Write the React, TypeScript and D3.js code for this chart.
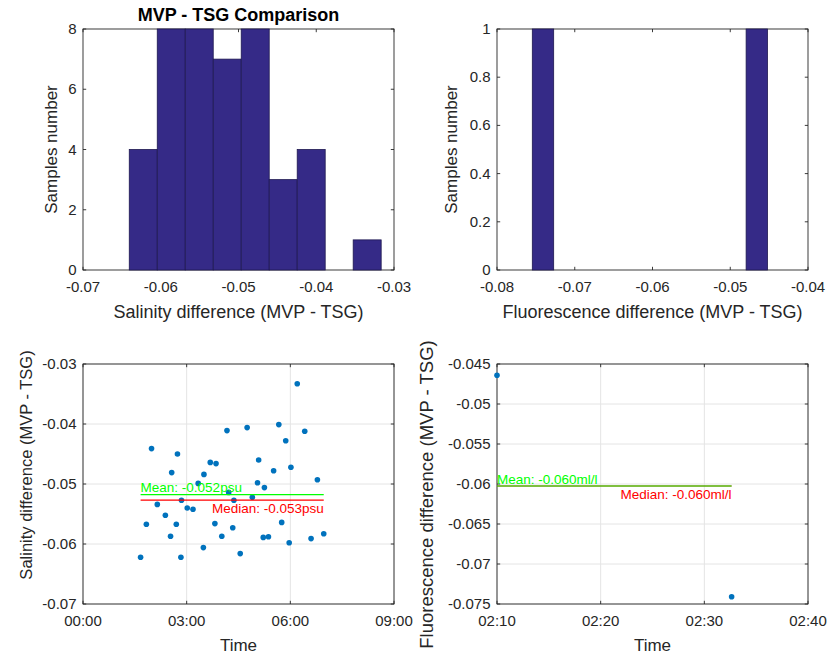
import React from 'react';
import * as d3 from 'd3';

// ---------- data ----------
const salHistEdgeStart = -0.06405;
const salHistBinWidth = 0.0036;
const salHistCounts = [4, 8, 8, 7, 8, 3, 4, 0, 1];
const salHistXTicks = [-0.07, -0.06, -0.05, -0.04, -0.03];
const salHistYTicks = [0, 2, 4, 6, 8];

const fluHistEdgeStart = -0.07546;
const fluHistBinWidth = 0.00275;
const fluHistCounts = [1, 0, 0, 0, 0, 0, 0, 0, 0, 0, 1];
const fluHistXTicks = [-0.08, -0.07, -0.06, -0.05, -0.04];
const fluHistYTicks = [0, 0.2, 0.4, 0.6, 0.8, 1];

const salTimes = [
  '01:40', '01:50', '01:59', '02:09', '02:23', '02:32', '02:34', '02:42', '02:44', '02:50',
  '02:51', '03:01', '03:11', '03:20', '03:29', '03:30', '03:41', '03:49', '03:51', '04:01',
  '04:10', '04:13', '04:20', '04:22', '04:33', '04:45', '04:54', '05:03', '05:05', '05:13',
  '05:15', '05:22', '05:31', '05:40', '05:45', '05:52', '05:58', '06:01', '06:12', '06:25',
  '06:36', '06:47', '06:58',
];
const salDiffs = [
  -0.0622, -0.0567, -0.0441, -0.0534, -0.0552, -0.0587, -0.0481, -0.0567, -0.0450, -0.0622,
  -0.0527, -0.0540, -0.0542, -0.0499, -0.0606, -0.0484, -0.0464, -0.0566, -0.0466, -0.0587,
  -0.0411, -0.0514, -0.0573, -0.0527, -0.0616, -0.0406, -0.0522, -0.0498, -0.0460, -0.0589,
  -0.0506, -0.0588, -0.0478, -0.0401, -0.0564, -0.0428, -0.0598, -0.0472, -0.0333, -0.0412,
  -0.0591, -0.0493, -0.0583,
];
const salYTicks = [-0.07, -0.06, -0.05, -0.04, -0.03];
const salTimeDomain = ['00:00', '09:00'];
const salTimeTicks = ['00:00', '03:00', '06:00', '09:00'];

const fluTimes = ['02:10:00', '02:32:38'];
const fluDiffs = [-0.0464, -0.0741];
const fluYTicks = [-0.075, -0.07, -0.065, -0.06, -0.055, -0.05, -0.045];
const fluTimeDomain = ['02:10', '02:40'];
const fluTimeTicks = ['02:10', '02:20', '02:30', '02:40'];

// ---------- helpers ----------
const FONT = '"Liberation Sans", Arial, Helvetica, sans-serif';
const AX = '#262626';
const BAR = '#352A87';
const DOT = '#0072BD';
const GRID = '#e4e4e4';
const TICK_FS = 15;

const parseT = (s: string) => {
  const p = s.split(':').map(Number);
  return new Date(2000, 0, 1, p[0], p[1], p[2] || 0);
};
const numFmt = (v: number) => String(+v.toFixed(6));
const timeFmt = d3.timeFormat('%H:%M');

type Box = { x0: number; x1: number; y0: number; y1: number };

function Frame({ box, xPos, yPos, xLabels, yLabels, grid }: any) {
  const tl = 3.2;
  return (
    <g>
      {grid &&
        xPos.map((px: number, i: number) => (
          <line key={'gx' + i} x1={px} x2={px} y1={box.y0} y2={box.y1} stroke={GRID} strokeWidth={1} />
        ))}
      {grid &&
        yPos.map((py: number, i: number) => (
          <line key={'gy' + i} x1={box.x0} x2={box.x1} y1={py} y2={py} stroke={GRID} strokeWidth={1} />
        ))}
      <rect x={box.x0} y={box.y0} width={box.x1 - box.x0} height={box.y1 - box.y0} fill="none" stroke={AX} strokeWidth={0.9} />
      {xPos.map((px: number, i: number) => (
        <g key={'tx' + i}>
          <line x1={px} x2={px} y1={box.y1} y2={box.y1 - tl} stroke={AX} strokeWidth={0.9} />
          <line x1={px} x2={px} y1={box.y0} y2={box.y0 + tl} stroke={AX} strokeWidth={0.9} />
          <text x={px} y={box.y1 + 22} textAnchor="middle" fontSize={TICK_FS} fill={AX} fontFamily={FONT}>
            {xLabels[i]}
          </text>
        </g>
      ))}
      {yPos.map((py: number, i: number) => (
        <g key={'ty' + i}>
          <line x1={box.x0} x2={box.x0 + tl} y1={py} y2={py} stroke={AX} strokeWidth={0.9} />
          <line x1={box.x1} x2={box.x1 - tl} y1={py} y2={py} stroke={AX} strokeWidth={0.9} />
          <text x={box.x0 - 6.5} y={py + 5} textAnchor="end" fontSize={TICK_FS} fill={AX} fontFamily={FONT}>
            {yLabels[i]}
          </text>
        </g>
      ))}
    </g>
  );
}

function Histogram({ box, start, width, counts, xTicks, yTicks }: any) {
  const x = d3.scaleLinear().domain([xTicks[0], xTicks[xTicks.length - 1]]).range([box.x0, box.x1]);
  const y = d3.scaleLinear().domain([yTicks[0], yTicks[yTicks.length - 1]]).range([box.y1, box.y0]);
  return (
    <g>
      <Frame
        box={box}
        xPos={xTicks.map(x)}
        yPos={yTicks.map(y)}
        xLabels={xTicks.map(numFmt)}
        yLabels={yTicks.map(numFmt)}
        grid={false}
      />
      {counts.map((c: number, i: number) => {
        const a = x(start + i * width);
        const b = x(start + (i + 1) * width);
        return (
          <rect key={i} x={a} y={y(c)} width={b - a} height={y(0) - y(c)} fill={BAR} stroke="#1e1850" strokeWidth={0.8} />
        );
      })}
    </g>
  );
}

function TimeScatter({ box, times, values, domain, tTicks, yTicks, unit }: any) {
  const x = d3.scaleTime().domain(domain.map(parseT)).range([box.x0, box.x1]);
  const y = d3.scaleLinear().domain([yTicks[0], yTicks[yTicks.length - 1]]).range([box.y1, box.y0]);
  const dates = times.map(parseT);
  const mean = d3.mean(values) as number;
  const median = d3.median(values) as number;
  const xa = x(dates[0]);
  const xb = x(dates[dates.length - 1]);
  return (
    <g>
      <Frame
        box={box}
        xPos={tTicks.map((t: string) => x(parseT(t)))}
        yPos={yTicks.map(y)}
        xLabels={tTicks.map((t: string) => timeFmt(parseT(t)))}
        yLabels={yTicks.map(numFmt)}
        grid={true}
      />
      {values.map((v: number, i: number) => (
        <circle key={i} cx={x(dates[i])} cy={y(v)} r={2.8} fill={DOT} />
      ))}
      <line x1={xa} x2={xb} y1={y(median)} y2={y(median)} stroke="#ff0000" strokeWidth={1.2} />
      <line x1={xa} x2={xb} y1={y(mean)} y2={y(mean)} stroke="#00ff00" strokeWidth={1.2} />
      <text x={xa} y={y(mean) - 2.5} fontSize={13.5} fill="#00ff00" fontFamily={FONT}>
        {'Mean: ' + mean.toFixed(3) + unit}
      </text>
      <text x={xb} y={y(median) + 13} textAnchor="end" fontSize={13.5} fill="#ff0000" fontFamily={FONT}>
        {'Median: ' + median.toFixed(3) + unit}
      </text>
    </g>
  );
}

const TL: Box = { x0: 83, x1: 394, y0: 29, y1: 270 };
const TR: Box = { x0: 497, x1: 808, y0: 29, y1: 270 };
const BL: Box = { x0: 83, x1: 394, y0: 364, y1: 604 };
const BR: Box = { x0: 497, x1: 808, y0: 364, y1: 604 };

export default function App() {
  return (
    <svg
      width={830}
      height={658}
      style={{ position: 'absolute', left: 0, top: 0, background: '#fff' }}
      fontFamily={FONT}
    >
      <rect x={0} y={0} width={830} height={658} fill="#fff" />
      <Histogram box={TL} start={salHistEdgeStart} width={salHistBinWidth} counts={salHistCounts} xTicks={salHistXTicks} yTicks={salHistYTicks} />
      <Histogram box={TR} start={fluHistEdgeStart} width={fluHistBinWidth} counts={fluHistCounts} xTicks={fluHistXTicks} yTicks={fluHistYTicks} />
      <TimeScatter box={BL} times={salTimes} values={salDiffs} domain={salTimeDomain} tTicks={salTimeTicks} yTicks={salYTicks} unit="psu" />
      <TimeScatter box={BR} times={fluTimes} values={fluDiffs} domain={fluTimeDomain} tTicks={fluTimeTicks} yTicks={fluYTicks} unit="ml/l" />

      <text x={(TL.x0 + TL.x1) / 2} y={21} textAnchor="middle" fontSize={18} fontWeight="bold" fill="#000">
        MVP - TSG Comparison
      </text>

      <text x={(TL.x0 + TL.x1) / 2} y={TL.y1 + 48} textAnchor="middle" fontSize={18} fill={AX}>
        Salinity difference (MVP - TSG)
      </text>
      <text x={(TR.x0 + TR.x1) / 2} y={TR.y1 + 48} textAnchor="middle" fontSize={18} fill={AX}>
        Fluorescence difference (MVP - TSG)
      </text>
      <text x={(BL.x0 + BL.x1) / 2} y={BL.y1 + 47} textAnchor="middle" fontSize={17} fill={AX}>
        Time
      </text>
      <text x={(BR.x0 + BR.x1) / 2} y={BR.y1 + 47} textAnchor="middle" fontSize={17} fill={AX}>
        Time
      </text>

      <text transform="translate(57,149.5) rotate(-90)" textAnchor="middle" fontSize={17} fill={AX}>
        Samples number
      </text>
      <text transform="translate(457,149.5) rotate(-90)" textAnchor="middle" fontSize={17} fill={AX}>
        Samples number
      </text>
      <text transform="translate(32,465) rotate(-90)" textAnchor="middle" fontSize={16.5} fill={AX}>
        Salinity difference (MVP - TSG)
      </text>
      <text transform="translate(433,494.5) rotate(-90)" textAnchor="middle" fontSize={18.5} fill={AX}>
        Fluorescence difference (MVP - TSG)
      </text>
    </svg>
  );
}
